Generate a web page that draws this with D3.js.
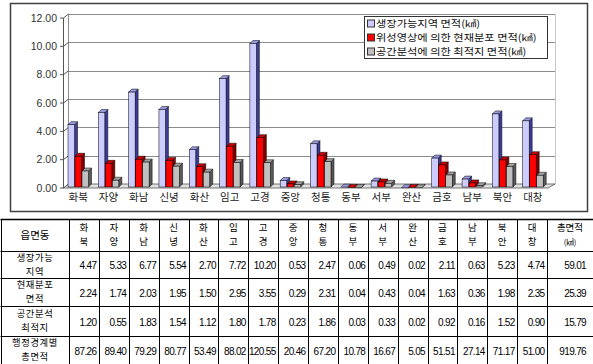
<!DOCTYPE html>
<html>
<head>
<meta charset="utf-8">
<script src="https://cdn.jsdelivr.net/npm/d3@7"></script>
<style>
  body { margin: 0; background: #fff; }
  svg { display: block; font-family: "Noto Sans CJK KR", sans-serif; }
  .num { font-family: "Liberation Sans", Arial, sans-serif; }
</style>
</head>
<body>
<div id="chart"></div>
<script>
// data
var towns = ["화북", "자양", "화남", "신녕", "화산", "임고", "고경", "중앙", "청통", "동부", "서부", "완산", "금호", "남부", "북안", "대창"];
var growArea = [4.47, 5.33, 6.77, 5.54, 2.70, 7.72, 10.20, 0.53, 2.47, 0.06, 0.49, 0.02, 2.11, 0.63, 5.23, 4.74];
// the bar chart draws 청통 higher than the table value
var growBar = [4.47, 5.33, 6.77, 5.54, 2.70, 7.72, 10.20, 0.53, 3.12, 0.06, 0.49, 0.02, 2.11, 0.63, 5.23, 4.74];
var currentArea = [2.24, 1.74, 2.03, 1.95, 1.50, 2.95, 3.55, 0.29, 2.31, 0.04, 0.43, 0.04, 1.63, 0.36, 1.98, 2.35];
var optimalArea = [1.20, 0.55, 1.83, 1.54, 1.12, 1.80, 1.78, 0.23, 1.86, 0.03, 0.33, 0.02, 0.92, 0.16, 1.52, 0.90];
var adminArea = [87.26, 89.40, 79.29, 80.77, 53.49, 88.02, 120.55, 20.46, 67.20, 10.78, 16.67, 5.05, 51.51, 27.14, 71.17, 51.00];
var totalArea = [59.01, 25.39, 15.79, 919.76];
var seriesNames = ["생장가능지역 면적(㎢)", "위성영상에 의한 현재분포 면적(㎢)", "공간분석에 의한 최적지 면적(㎢)"];
var rowNames = [["생장가능", "지역"], ["현재분포", "면적"], ["공간분석", "최적지"], ["행정경계별", "총면적"]];
var yTicks = [0, 2, 4, 6, 8, 10, 12];

var W = 593, H = 364;
var svg = d3.select("#chart").append("svg").attr("width", W).attr("height", H);

var colors = [
    {face: "#ccccff", top: "#9999e0", side: "#3c3c99"},
    {face: "#ff0000", top: "#cc0000", side: "#800000"},
    {face: "#c0c0c0", top: "#a0a0a0", side: "#5a5a5a"}
];

// ---- chart frame
svg.append("rect").attr("x", 10.5).attr("y", 3.5).attr("width", 577).attr("height", 208)
    .attr("fill", "#fff").attr("stroke", "#404040").attr("stroke-width", 1.5);

var x = d3.scaleBand().domain(towns).range([63, 548]);
var xs = d3.scaleBand().domain([0, 1, 2]).range([5, 26]);
var y = d3.scaleLinear().domain([0, 12]).range([188, 18]);
var wd = 5, wh = 4, bd = 3;

var plot = svg.append("g");

// back wall grid
plot.selectAll("line.grid").data(yTicks).enter().append("line")
    .attr("x1", 63 + wd).attr("x2", 548 + wd + 2)
    .attr("y1", function(d) { return Math.round(y(d) - wh) + 0.5; })
    .attr("y2", function(d) { return Math.round(y(d) - wh) + 0.5; })
    .attr("stroke", "#8c8c8c").attr("stroke-width", 1.2);
plot.append("line").attr("x1", 555.5).attr("x2", 555.5).attr("y1", y(12) - wh).attr("y2", y(0) - wh)
    .attr("stroke", "#c8c8c8");

// left wall
plot.append("line").attr("x1", 63.5).attr("x2", 63.5).attr("y1", y(12)).attr("y2", y(0))
    .attr("stroke", "#555");
plot.append("line").attr("x1", 63.5 + wd).attr("x2", 63.5 + wd).attr("y1", y(12) - wh).attr("y2", y(0) - wh)
    .attr("stroke", "#8c8c8c");
plot.selectAll("line.diag").data(yTicks).enter().append("line")
    .attr("x1", 63.5).attr("x2", 63.5 + wd)
    .attr("y1", function(d) { return y(d); }).attr("y2", function(d) { return y(d) - wh; })
    .attr("stroke", "#555");
plot.selectAll("line.tick").data(yTicks).enter().append("line")
    .attr("x1", 60).attr("x2", 63.5)
    .attr("y1", function(d) { return y(d); }).attr("y2", function(d) { return y(d); })
    .attr("stroke", "#555");

// floor
plot.append("path")
    .attr("d", "M63.5," + y(0) + "L548," + y(0) + "L" + (548 + wd + 2) + "," + (y(0) - wh) + "L" + (63.5 + wd) + "," + (y(0) - wh) + "Z")
    .attr("fill", "#e0e0e0").attr("stroke", "#555").attr("stroke-width", 0.8);

// y labels
svg.selectAll("text.ylab").data(yTicks).enter().append("text")
    .attr("class", "num")
    .attr("x", 57).attr("y", function(d) { return y(d); })
    .attr("dy", "0.35em").attr("text-anchor", "end")
    .attr("font-size", 10.5).attr("fill", "#333")
    .text(function(d) { return d3.format(".2f")(d); });

// bars
var allSeries = [growBar, currentArea, optimalArea];
var bw = 6.5;
towns.forEach(function(t, i) {
    var g = plot.append("g");
    allSeries.forEach(function(s, k) {
        var x0 = x(t) + xs(k), yv = y(s[i]), y0 = y(0) - 1, c = colors[k];
        g.append("path")
            .attr("d", "M" + (x0 + bw) + "," + yv + "L" + (x0 + bw + bd) + "," + (yv - bd) + "L" + (x0 + bw + bd) + "," + (y0 - bd) + "L" + (x0 + bw) + "," + y0 + "Z")
            .attr("fill", c.side).attr("stroke", "#000").attr("stroke-width", 0.5);
        g.append("path")
            .attr("d", "M" + x0 + "," + yv + "L" + (x0 + bd) + "," + (yv - bd) + "L" + (x0 + bw + bd) + "," + (yv - bd) + "L" + (x0 + bw) + "," + yv + "Z")
            .attr("fill", c.top).attr("stroke", "#000").attr("stroke-width", 0.5);
        g.append("rect")
            .attr("x", x0).attr("y", yv).attr("width", bw).attr("height", Math.max(0, y0 - yv))
            .attr("fill", c.face).attr("stroke", "#000").attr("stroke-width", 0.5);
    });
});

// x labels
svg.selectAll("text.xlab").data(towns).enter().append("text")
    .attr("x", function(d) { return x(d) + x.bandwidth() / 2; })
    .attr("y", 197).attr("dy", "0.35em").attr("text-anchor", "middle")
    .attr("font-size", 10.5).attr("fill", "#222")
    .text(function(d) { return d; });

// legend
var leg = svg.append("g");
leg.append("rect").attr("x", 364.5).attr("y", 16.5).attr("width", 183).attr("height", 42)
    .attr("fill", "#fff").attr("stroke", "#333");
seriesNames.forEach(function(n, k) {
    var cy = 24 + k * 14;
    leg.append("rect").attr("x", 367.5).attr("y", cy - 4).attr("width", 7).attr("height", 7)
        .attr("fill", colors[k].face).attr("stroke", "#333");
    var txt = leg.append("text").attr("x", 376).attr("y", cy).attr("dy", "0.35em")
        .attr("font-size", 9.6).attr("fill", "#111").text(n);
    // the original font is wider; stretch to match
    var len = txt.node().getComputedTextLength();
    txt.attr("textLength", len * 1.17).attr("lengthAdjust", "spacingAndGlyphs");
});

// ---- table
var rowsY = [219, 251, 278, 306, 336, 364];
var colX = d3.scaleBand().domain(d3.range(16)).range([69, 547]);
var colEdges = [1].concat(d3.range(16).map(function(i) { return colX(i); })).concat([547, 592.5]);
var tbl = svg.append("g");

rowsY.forEach(function(ry, r) {
    tbl.append("line").attr("x1", 0.5).attr("x2", 593).attr("y1", ry + 0.5).attr("y2", ry + 0.5)
        .attr("stroke", "#000").attr("stroke-width", r === 0 ? 1.5 : 1);
});
colEdges.forEach(function(cx) {
    tbl.append("line").attr("x1", Math.round(cx) + 0.5).attr("x2", Math.round(cx) + 0.5)
        .attr("y1", 219).attr("y2", 364).attr("stroke", "#000");
});

// header
tbl.append("text").attr("x", 35).attr("y", 235).attr("dy", "0.35em").attr("text-anchor", "middle")
    .attr("font-size", 10.5).text("읍면동");
towns.forEach(function(t, i) {
    var cx = colX(i) + colX.bandwidth() / 2;
    tbl.append("text").attr("x", cx).attr("y", 228).attr("dy", "0.35em").attr("text-anchor", "middle")
        .attr("font-size", 9.5).text(t[0]);
    tbl.append("text").attr("x", cx).attr("y", 242).attr("dy", "0.35em").attr("text-anchor", "middle")
        .attr("font-size", 9.5).text(t[1]);
});
tbl.append("text").attr("x", 570).attr("y", 228).attr("dy", "0.35em").attr("text-anchor", "middle")
    .attr("font-size", 9.5).text("총면적");
tbl.append("text").attr("x", 570).attr("y", 242).attr("dy", "0.35em").attr("text-anchor", "middle")
    .attr("font-size", 7.5).text("(㎢)");

// body rows
var tableRows = [growArea, currentArea, optimalArea, adminArea];
tableRows.forEach(function(vals, r) {
    var top = rowsY[r + 1], bot = rowsY[r + 2], mid = (top + bot) / 2;
    tbl.append("text").attr("x", 35).attr("y", mid - 6.8).attr("dy", "0.35em").attr("text-anchor", "middle")
        .attr("font-size", 9.3).attr("letter-spacing", 0.6).text(rowNames[r][0]);
    tbl.append("text").attr("x", 35).attr("y", mid + 6.8).attr("dy", "0.35em").attr("text-anchor", "middle")
        .attr("font-size", 9.3).attr("letter-spacing", 0.6).text(rowNames[r][1]);
    vals.forEach(function(v, i) {
        tbl.append("text").attr("class", "num")
            .attr("x", colX(i) + colX.bandwidth() - 2.5).attr("y", mid + 1).attr("dy", "0.35em")
            .attr("text-anchor", "end").attr("font-size", 10).attr("letter-spacing", -0.65)
            .text(d3.format(".2f")(v));
    });
    tbl.append("text").attr("class", "num")
        .attr("x", 586).attr("y", mid + 1).attr("dy", "0.35em")
        .attr("text-anchor", "end").attr("font-size", 10).attr("letter-spacing", -0.65)
        .text(d3.format(".2f")(totalArea[r]));
});
</script>
</body>
</html>
